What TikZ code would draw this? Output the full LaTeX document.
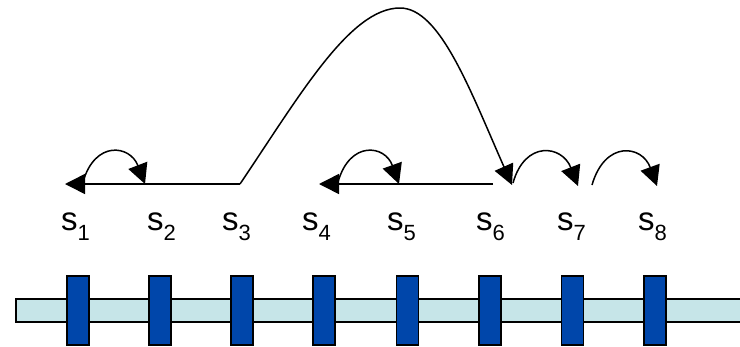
\documentclass[tikz,border=0pt]{standalone}
\usepackage{fontspec}
\setmainfont{Liberation Sans}
\usetikzlibrary{arrows.meta}
\definecolor{barfill}{RGB}{198,229,232}
\definecolor{blockfill}{RGB}{0,70,170}
\tikzset{
  conn/.style={line width=1.5pt, -{Triangle[length=20pt,width=20pt]}},
  block/.style={draw=black, line width=1.4pt, fill=blockfill},
  bar/.style={draw=black, line width=1.4pt, fill=barfill},
  lab/.style={anchor=base west, inner sep=0pt, font=\fontsize{33}{36}\selectfont}
}
\newcommand{\slab}[1]{s\raisebox{-10pt}{\fontsize{22}{22}\selectfont #1}}
\begin{document}
\begin{tikzpicture}[x=1pt,y=-1pt]
\useasboundingbox (0,0) rectangle (740,346);
% bar
\draw[bar] (16,299) rectangle (746,322);
% blocks
\foreach \cx/\n in {78/1,160/2,242/3,324/4,407.5/5,490/6,572.5/7,655/8}{
  \draw[block] (\cx-11,276) rectangle (\cx+11,345);
}
% labels
\node[lab] (l1) at (61,230) {\slab{1}};
\node[lab] (l2) at (147,230) {\slab{2}};
\node[lab] (l3) at (222,230) {\slab{3}};
\node[lab] (l4) at (302,230) {\slab{4}};
\node[lab] (l5) at (387,230) {\slab{5}};
\node[lab] (l6) at (476,230) {\slab{6}};
\node[lab] (l7) at (557,230) {\slab{7}};
\node[lab] (l8) at (638,230) {\slab{8}};
% anchor points
\coordinate (a1) at (65,184);
\coordinate (b1) at (83,182);
\coordinate (a2) at (145,184);
\coordinate (a3) at (240,184);
\coordinate (a4) at (319,184);
\coordinate (b4) at (338,182);
\coordinate (a5) at (399,184);
\coordinate (a6) at (493,184);
\coordinate (b6) at (513,183);
\coordinate (c6) at (512,185);
\coordinate (a7) at (578,186);
\coordinate (b7) at (592,185);
\coordinate (a8) at (657,186);
% connectors
\draw[conn] (a3) -- (a1);
\draw[conn] (b1) .. controls (95,140) and (130,145) .. (a2);
\draw[conn] (a3) .. controls (300,95) and (350,8) .. (400,8) .. controls (440,8) and (470,90) .. (c6);
\draw[conn] (a6) -- (a4);
\draw[conn] (b4) .. controls (350,140) and (385,145) .. (a5);
\draw[conn] (b6) .. controls (525,140) and (562,145) .. (a7);
\draw[conn] (b7) .. controls (605,140) and (642,145) .. (a8);
\end{tikzpicture}
\end{document}
